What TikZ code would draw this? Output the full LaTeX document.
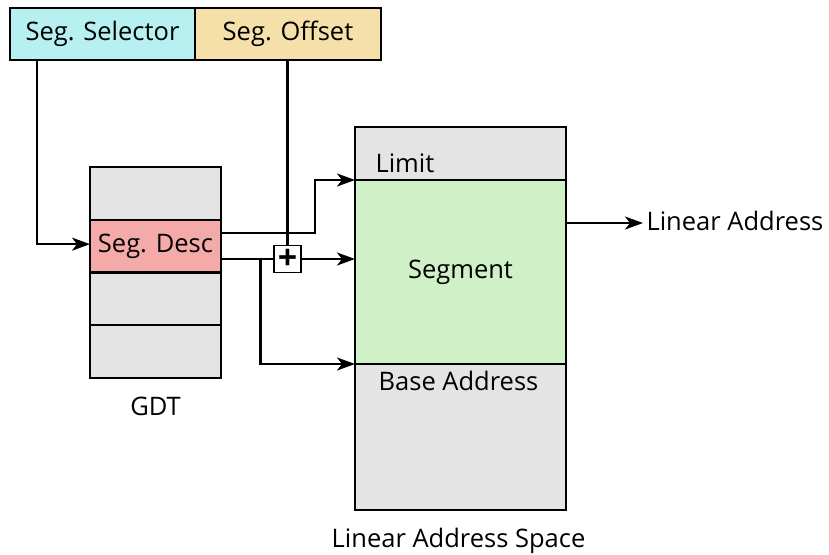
\documentclass[tikz,border=0pt]{standalone}
\usepackage{fontspec}
\setmainfont{Open Sans}
\usepackage{tikz}
\usetikzlibrary{positioning,arrows.meta}

\definecolor{selcol}{RGB}{182,240,240}
\definecolor{offcol}{RGB}{245,224,170}
\definecolor{desccol}{RGB}{245,170,170}
\definecolor{cellcol}{RGB}{228,228,228}
\definecolor{segcol}{RGB}{208,240,200}

\begin{document}
\begin{tikzpicture}[x=1pt, y=-1pt,
    font=\fontsize{25.5}{30}\selectfont,
    field/.style={rectangle, draw, line width=2.4pt, outer sep=0pt, inner sep=0pt},
    wire/.style={line width=2.4pt},
    arr/.style={-{Stealth[length=18pt,width=13pt,inset=5pt]}}]
  \useasboundingbox (0,0) rectangle (829,554);

  % selector and offset
  \node (sel) [field, fill=selcol, minimum width=185pt, minimum height=52pt] at (102.5,34) {Seg. Selector};
  \node (off) [field, fill=offcol, minimum width=186pt, minimum height=52pt, right=0pt of sel] {Seg. Offset};

  % GDT
  \node (gdt0) [field, fill=cellcol, minimum width=131pt, minimum height=52.75pt] at (155.5,193.4) {};
  \node (desc) [field, fill=desccol, minimum width=131pt, minimum height=52.75pt, below=0pt of gdt0] {Seg. Desc};
  \node (gdt2) [field, fill=cellcol, minimum width=131pt, minimum height=52.75pt, below=0pt of desc] {};
  \node (gdt3) [field, fill=cellcol, minimum width=131pt, minimum height=52.75pt, below=0pt of gdt2] {};
  \node (gdtlbl) [below=15pt of gdt3] {GDT};

  % linear address space
  \node (top) [field, fill=cellcol, minimum width=211pt, minimum height=53pt] at (460.5,153.5) {};
  \node (seg) [field, fill=segcol, minimum width=211pt, minimum height=184pt, below=0pt of top] {Segment};
  \node (base) [field, fill=cellcol, minimum width=211pt, minimum height=146pt, below=0pt of seg] {};
  \node (limit) [anchor=base west] at ([shift={(17,-8)}]seg.north west) {Limit};
  \node (baselbl) [anchor=base] at ([shift={(-2,26)}]seg.south) {Base Address};
  \node (spacelbl) [anchor=base, inner sep=0pt] at ([shift={(-2,37)}]base.south) {Linear Address Space};

  \node (plus) [rectangle, draw, line width=1.3pt, fill=white, minimum size=27pt, inner sep=0pt, font=\fontsize{34}{34}\selectfont\bfseries] at (287.5,259) {+};
  \node (out) [anchor=west] at (643,221) {Linear Address};

  % connections
  \draw[wire, arr] ([xshift=27pt]sel.south west) |- ([yshift=2pt]desc.west);
  \draw[wire] (plus.north |- off.south) -- (plus.north);
  \draw[wire, arr] ([yshift=13pt]desc.east) -- ++(94,0) |- (seg.north west);
  \draw[wire] (plus.west -| desc.east) -- (plus.west);
  \draw[wire, arr] (plus.east) -- (plus.east -| seg.west);
  \draw[wire, arr] ([xshift=-13pt]plus.west) |- (seg.south west);
  \draw[wire, arr] ([yshift=-2pt]out.west -| seg.east) -- ([yshift=-2pt]out.west);
\end{tikzpicture}
\end{document}
